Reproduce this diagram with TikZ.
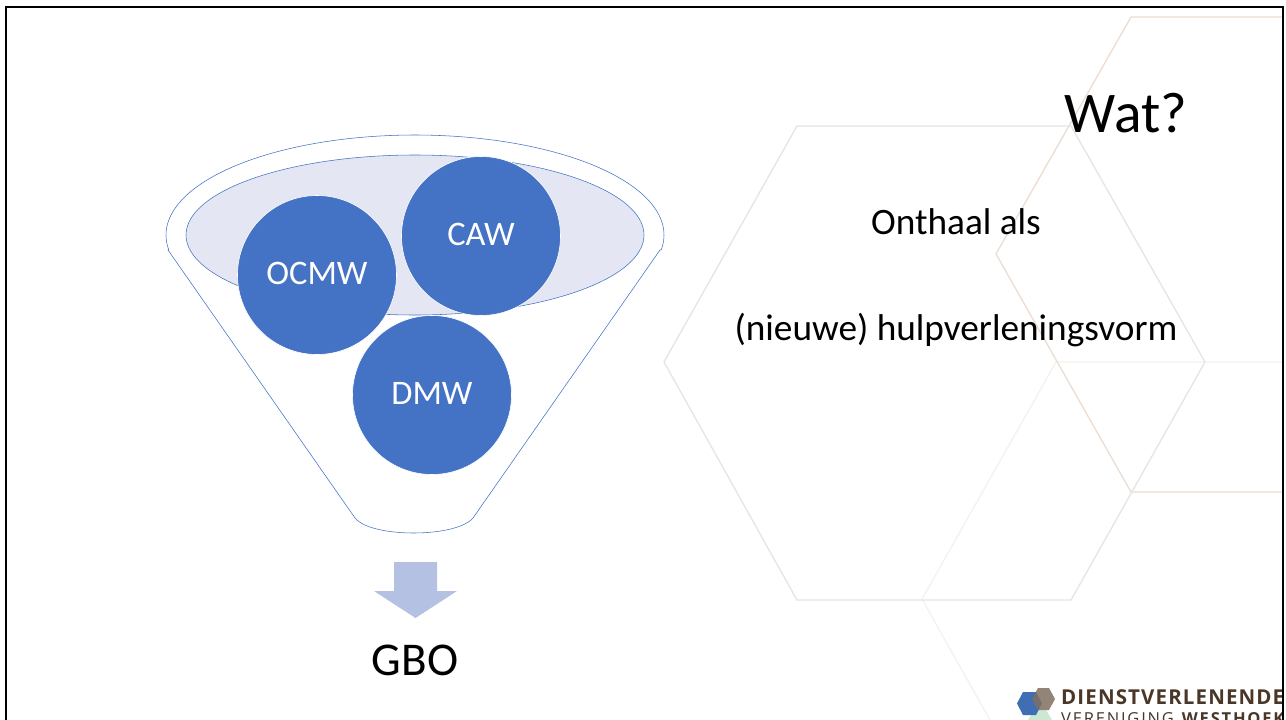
\documentclass[tikz,border=0pt]{standalone}
\usepackage{fontspec}
\setmainfont{Carlito}
\newfontfamily\logofont[LetterSpace=5.5]{Open Sans}
\newfontfamily\logofontb[LetterSpace=11]{Open Sans}
\definecolor{accent}{HTML}{4472C4}
\definecolor{pale}{HTML}{E4E7F3}
\definecolor{arrowfill}{HTML}{B4C1E3}
\definecolor{hexgray}{HTML}{E6E4E4}
\definecolor{hexorange}{HTML}{EBDDD2}
\definecolor{hexcream}{HTML}{F4F2EA}
\definecolor{logotext}{HTML}{4A3728}
\definecolor{logoblue}{HTML}{3F6EB5}
\definecolor{logobrown}{HTML}{7F6F60}
\definecolor{logogreen}{HTML}{CDE8D2}
\tikzset{
  blob/.style={circle,fill=accent,draw=white,line width=0.6pt,minimum size=159pt,inner sep=0pt,text=white,text depth=4pt,font=\fontsize{34.4pt}{40pt}\selectfont},
  funnelline/.style={draw=accent,line width=0.55pt},
  hexline/.style={line width=1.3pt,line join=round},
  bigtext/.style={text=black,inner sep=0pt},
}
\begin{document}
\begin{tikzpicture}[x=1pt,y=-1pt]
\useasboundingbox (0,0) rectangle (1286,720);
\fill[white] (0,0) rectangle (1286,720);
% background hexagons
\draw[hexline,hexcream] (1283,362) -- (1056,362) -- (922,599) -- (990,720);
\draw[hexline,hexorange] (1283,17) -- (1131,17) -- (996,254) -- (1131,492) -- (1283,492);
\draw[hexline,hexgray] (664,362) -- (797,126) -- (1071,126) -- (1205,362) -- (1071,600) -- (797,600) -- cycle;
% funnel
\draw[funnelline,fill=white] (168,250) -- plot[domain=171.4:368.6,samples=120] ({415+249*cos(\x)},{235+100*sin(\x)}) -- (660,250) -- (473,518) .. controls (456,538) and (371,538) .. (355,518) -- cycle;
\draw[funnelline,fill=pale] (415,235) ellipse [x radius=229,y radius=80];
\node[blob] (ocmw) at (317,275) {OCMW};
\node[blob] (caw) at (481,236) {CAW};
\node[blob] (dmw) at (432,395) {DMW};
% arrow
\fill[arrowfill] (394,562) -- (437,562) -- (437,591) -- (457,591) -- (415.5,618) -- (374,591) -- (394,591) -- cycle;
% texts
\node[bigtext,font=\fontsize{47pt}{50pt}\selectfont] (gbo) at (415,660) {GBO};
\node[bigtext,font=\fontsize{57.5pt}{60pt}\selectfont] (wat) at (1126,113) {Wat?};
\node[bigtext,font=\fontsize{37.3pt}{42pt}\selectfont] (onthaal) at (956,222) {Onthaal als};
\node[bigtext,font=\fontsize{37.3pt}{42pt}\selectfont] (nieuwe) at (956,330) {(nieuwe) hulpverleningsvorm};
% logo
\begin{scope}
\clip (0,0) rectangle (1282,720);
\fill[logogreen] (1028,720) -- (1034,710) -- (1046,710) -- (1052,720) -- cycle;
\fill[logoblue] (1017,703.5) -- (1023,692) -- (1036,692) -- (1042,703.5) -- (1036,715) -- (1023,715) -- cycle;
\fill[logobrown,opacity=.85] (1032,699) -- (1038,688) -- (1049,688) -- (1055,699) -- (1049,710) -- (1038,710) -- cycle;
\node[anchor=base west,inner sep=0pt,text=logotext,font=\logofont\fontsize{20.5pt}{22pt}\selectfont\bfseries] (logoa) at (1061,704) {DIENSTVERLENENDE};
\node[anchor=base west,inner sep=0pt,text=logotext,font=\logofontb\fontsize{16.5pt}{20pt}\selectfont] (logob) at (1061,724) {VERENIGING \textbf{WESTHOEK}};
\end{scope}
% frame
\draw[black,line width=2.6pt] (6,720) -- (6,7) -- (1283,7) -- (1283,720);
\end{tikzpicture}
\end{document}
